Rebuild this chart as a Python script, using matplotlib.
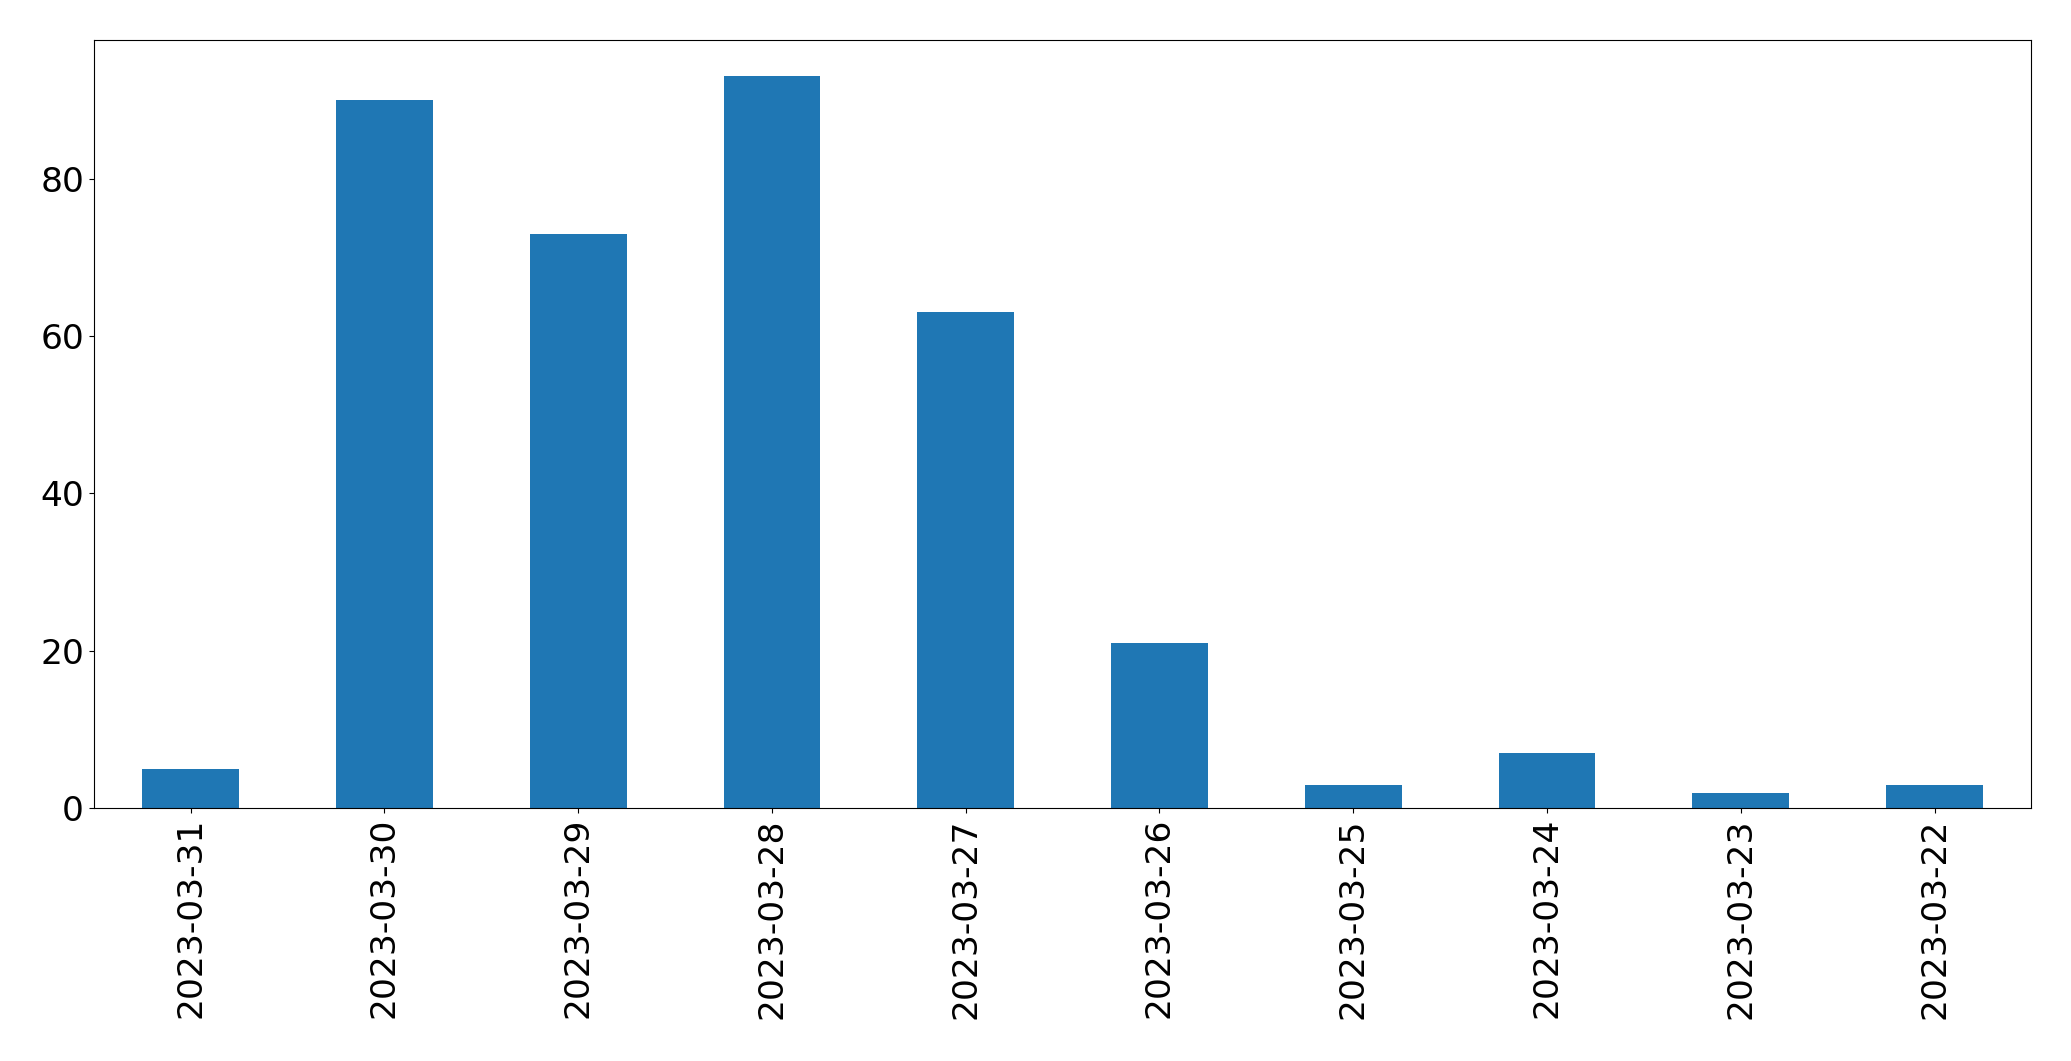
import matplotlib
matplotlib.use("Agg")
import matplotlib.pyplot as plt
import pandas as pd

dates = ["2023-03-31", "2023-03-30", "2023-03-29", "2023-03-28", "2023-03-27",
         "2023-03-26", "2023-03-25", "2023-03-24", "2023-03-23", "2023-03-22"]
counts = [5, 90, 73, 93, 63, 21, 3, 7, 2, 3]

fig = plt.figure(figsize=(20.71, 10.61), dpi=100)
ax = fig.add_axes([93.8 / 2071, 1 - 808.4 / 1061, (2031.4 - 93.8) / 2071, (808.4 - 39.6) / 1061])
s = pd.Series(counts, index=dates)
s.plot(kind="bar", ax=ax, color="#1f77b4", width=0.5)
ax.tick_params(axis="both", labelsize=24.8)
ax.set_yticks([0, 20, 40, 60, 80])
fig.savefig("out.png", dpi=100)
